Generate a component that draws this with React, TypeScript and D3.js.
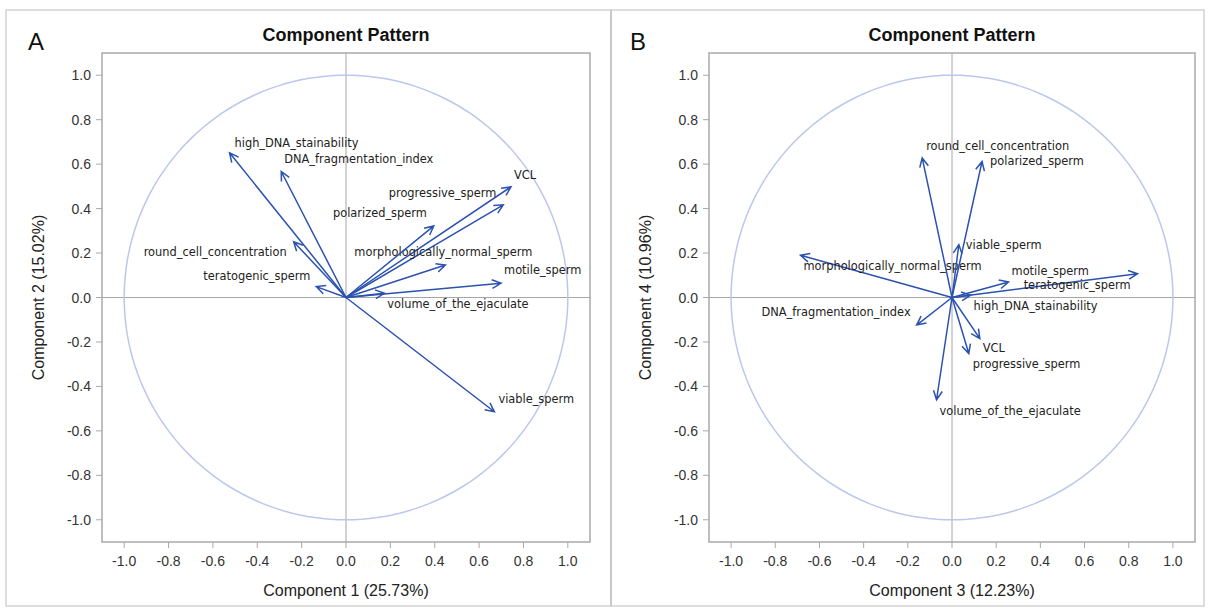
import React from "react";
import * as d3 from "d3";

// variables of the loading plots
const variables = [
  "volume_of_the_ejaculate",
  "round_cell_concentration",
  "motile_sperm",
  "progressive_sperm",
  "VCL",
  "morphologically_normal_sperm",
  "teratogenic_sperm",
  "viable_sperm",
  "polarized_sperm",
  "DNA_fragmentation_index",
  "high_DNA_stainability",
];

// component loadings
const comp1 = [0.173, -0.236, 0.699, 0.709, 0.744, 0.448, -0.134, 0.669, 0.396, -0.292, -0.525];
const comp2 = [0.019, 0.251, 0.064, 0.417, 0.498, 0.146, 0.049, -0.514, 0.322, 0.567, 0.651];
const comp3 = [-0.07, -0.135, 0.256, 0.076, 0.126, -0.686, 0.84, 0.031, 0.136, -0.16, 0.084];
const comp4 = [-0.46, 0.628, 0.07, -0.252, -0.185, 0.19, 0.107, 0.238, 0.612, -0.124, 0.01];

const tickValues = [-1.0, -0.8, -0.6, -0.4, -0.2, 0.0, 0.2, 0.4, 0.6, 0.8, 1.0];

// label placement next to arrow tips (px offsets, anchor)
const labelDxA = [3, -7, 3, -7, 3, -2, -6, 4, -7, 3, 5];
const labelDyA = [11, 10, -13, -12, -12, -13, -11, -13, -13, -12, -10];
const labelAnchorA = ["start", "end", "start", "end", "start", "middle", "end", "start", "end", "start", "start"];
const labelDxB = [3, 4, 3, 4, 3, 3, -7, 7, 8, -6, 3];
const labelDyB = [11, -12, -11, 10, 9, 11, 11, 0, 0, -13, 11];
const labelAnchorB = ["start", "start", "start", "start", "start", "start", "end", "start", "start", "end", "start"];

const panels = [
  {
    letter: "A",
    xs: comp1,
    ys: comp2,
    xTitle: "Component 1 (25.73%)",
    yTitle: "Component 2 (15.02%)",
    left: 102,
    right: 590,
    dx: labelDxA,
    dy: labelDyA,
    anchor: labelAnchorA,
    letterX: 28,
  },
  {
    letter: "B",
    xs: comp3,
    ys: comp4,
    xTitle: "Component 3 (12.23%)",
    yTitle: "Component 4 (10.96%)",
    left: 709,
    right: 1195,
    dx: labelDxB,
    dy: labelDyB,
    anchor: labelAnchorB,
    letterX: 630,
  },
];

const TOP = 53;
const BOTTOM = 542;
const ARROW = "#2b52b0";
const FONT = "'Liberation Sans', Arial, sans-serif";

function Panel({ p }: { p: any }) {
  const x = d3.scaleLinear().domain([-1.1, 1.1]).range([p.left, p.right]);
  const y = d3.scaleLinear().domain([-1.1, 1.1]).range([BOTTOM, TOP]);
  const cx = (p.left + p.right) / 2;
  const fmt = d3.format(".1f");

  const circle = d3.range(0, 361, 2).map((a) => [Math.cos((a * Math.PI) / 180), Math.sin((a * Math.PI) / 180)]);
  const circlePath = d3
    .line()
    .x((d: any) => x(d[0]))
    .y((d: any) => y(d[1]))(circle as any);

  return (
    <g>
      <text x={p.letterX} y={50} fontSize={24} fontFamily={FONT} fill="#111">
        {p.letter}
      </text>
      <text x={cx} y={41} textAnchor="middle" fontSize={18} fontWeight="bold" fontFamily={FONT} fill="#111">
        Component Pattern
      </text>
      {/* reference lines */}
      <line x1={x(0)} x2={x(0)} y1={TOP} y2={BOTTOM} stroke="#a6a6a6" strokeWidth={1} />
      <line x1={p.left} x2={p.right} y1={y(0)} y2={y(0)} stroke="#a6a6a6" strokeWidth={1} />
      <path d={circlePath || ""} fill="none" stroke="#bcc7ee" strokeWidth={1.5} />
      {/* arrows */}
      {variables.map((name, i) => {
        const x0 = x(0);
        const y0 = y(0);
        const x1 = x(p.xs[i]);
        const y1 = y(p.ys[i]);
        const ang = Math.atan2(y1 - y0, x1 - x0);
        const len = 10;
        const spread = (26 * Math.PI) / 180;
        const h1 = [x1 - len * Math.cos(ang - spread), y1 - len * Math.sin(ang - spread)];
        const h2 = [x1 - len * Math.cos(ang + spread), y1 - len * Math.sin(ang + spread)];
        return (
          <g key={name}>
            <path
              d={`M${x0},${y0}L${x1},${y1}M${h1[0]},${h1[1]}L${x1},${y1}L${h2[0]},${h2[1]}`}
              fill="none"
              stroke={ARROW}
              strokeWidth={1.5}
            />
            <text
              x={x1 + p.dx[i]}
              y={y1 + p.dy[i]}
              textAnchor={p.anchor[i]}
              dominantBaseline="central"
              fontSize={11.4}
              fontFamily="'DejaVu Sans', Verdana, sans-serif"
              fill="#222"
            >
              {name}
            </text>
          </g>
        );
      })}
      {/* frame */}
      <rect x={p.left} y={TOP} width={p.right - p.left} height={BOTTOM - TOP} fill="none" stroke="#a9a9a9" strokeWidth={1.5} />
      {/* x axis */}
      {tickValues.map((t) => (
        <g key={"x" + t}>
          <line x1={x(t)} x2={x(t)} y1={BOTTOM} y2={BOTTOM + 6} stroke="#a9a9a9" />
          <text x={x(t)} y={BOTTOM + 19} textAnchor="middle" dominantBaseline="central" fontSize={14} fontFamily={FONT} fill="#333">
            {fmt(t).replace("−", "-")}
          </text>
        </g>
      ))}
      {/* y axis */}
      {tickValues.map((t) => (
        <g key={"y" + t}>
          <line x1={p.left - 6} x2={p.left} y1={y(t)} y2={y(t)} stroke="#a9a9a9" />
          <text x={p.left - 11} y={y(t)} textAnchor="end" dominantBaseline="central" fontSize={14} fontFamily={FONT} fill="#333">
            {fmt(t).replace("−", "-")}
          </text>
        </g>
      ))}
      <text x={cx} y={590} textAnchor="middle" dominantBaseline="central" fontSize={16} fontFamily={FONT} fill="#222">
        {p.xTitle}
      </text>
      <text
        transform={`translate(${p.left - 64},${y(0)}) rotate(-90)`}
        textAnchor="middle"
        dominantBaseline="central"
        fontSize={16}
        fontFamily={FONT}
        fill="#222"
      >
        {p.yTitle}
      </text>
    </g>
  );
}

export default function App() {
  return (
    <div style={{ position: "absolute", left: 0, top: 0 }}>
      <svg width={1210} height={610} style={{ display: "block", background: "#fff" }}>
        <rect x={6} y={10} width={1198} height={596} fill="none" stroke="#d2d2d2" strokeWidth={1.5} />
        <line x1={611} x2={611} y1={10} y2={606} stroke="#c8c8c8" strokeWidth={2} />
        {panels.map((p) => (
          <Panel key={p.letter} p={p} />
        ))}
      </svg>
    </div>
  );
}
